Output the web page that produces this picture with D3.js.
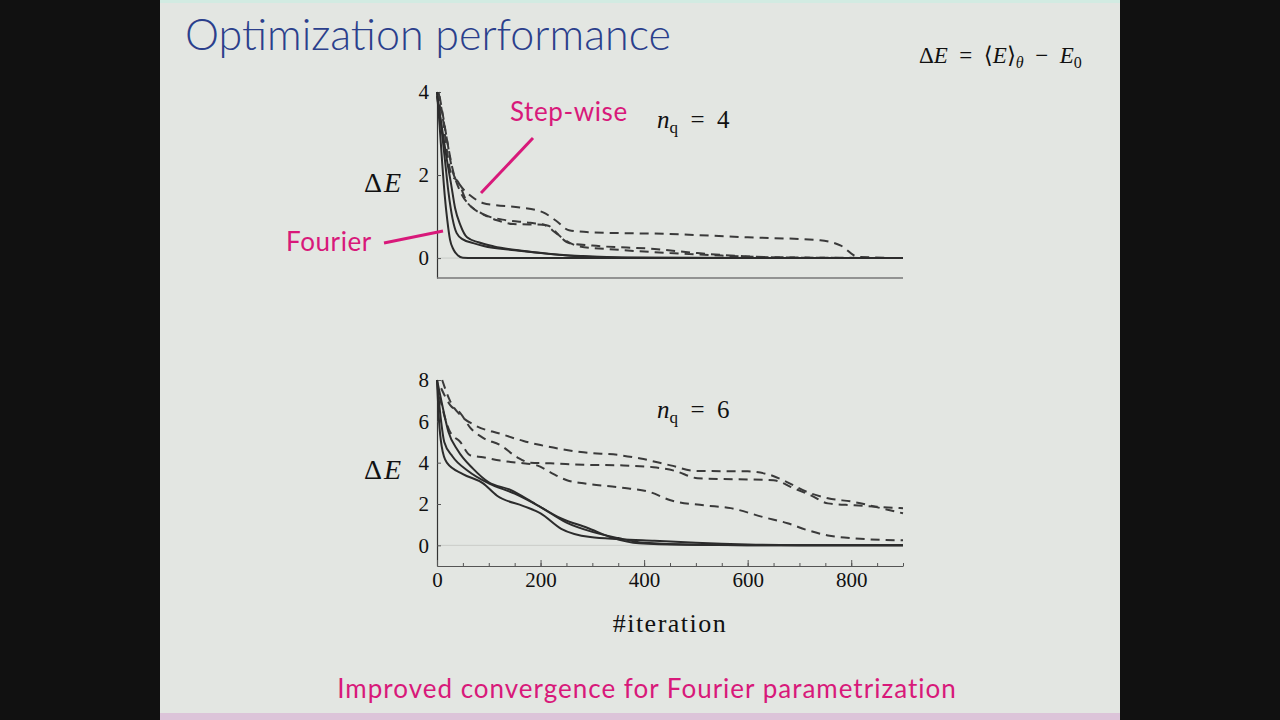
<!DOCTYPE html>
<html>
<head>
<meta charset="utf-8">
<script src="https://cdn.jsdelivr.net/npm/d3@7"></script>
<style>
  html, body { margin: 0; padding: 0; background: #111; }
  svg { display: block; }
</style>
</head>
<body>
<div id="vis"></div>
<script>
// n_q = 4 panel: [iteration, ΔE]
const fourier4 = [
  [[0, 4.0], [5, 3.2], [10, 2.3], [15, 1.5], [20, 0.9], [25, 0.45], [32, 0.2], [40, 0.07], [50, 0.01], [70, 0], [900, 0]],
  [[0, 4.0], [8, 3.2], [15, 2.4], [22, 1.6], [30, 0.95], [38, 0.6], [50, 0.45], [70, 0.36], [90, 0.29], [150, 0.19], [200, 0.12], [280, 0.04], [400, 0.01], [900, 0]],
  [[0, 3.9], [10, 3.1], [20, 2.3], [27, 1.8], [35, 1.2], [45, 0.8], [58, 0.5], [80, 0.38], [110, 0.28], [160, 0.18], [220, 0.1], [300, 0.04], [420, 0.01], [900, 0]]
];
const stepwise4 = [
  [[5, 3.9], [12, 3.4], [20, 2.8], [30, 2.1], [45, 1.75], [65, 1.5], [90, 1.32], [110, 1.28], [160, 1.22], [205, 1.1], [230, 0.9], [255, 0.67], [300, 0.62], [450, 0.58], [600, 0.5], [740, 0.43], [780, 0.3], [813, 0.03], [900, 0]],
  [[5, 3.7], [12, 3.3], [19, 2.6], [28, 2.0], [40, 1.85], [58, 1.35], [83, 1.1], [116, 0.91], [147, 0.82], [205, 0.8], [230, 0.6], [255, 0.36], [300, 0.3], [420, 0.22], [503, 0.12], [600, 0.04], [700, 0.01], [900, 0]],
  [[3, 4.0], [10, 3.5], [20, 2.8], [30, 2.15], [45, 1.6], [65, 1.25], [90, 1.05], [130, 0.92], [180, 0.85], [215, 0.78], [240, 0.5], [275, 0.28], [350, 0.2], [450, 0.12], [550, 0.06], [650, 0.02], [900, 0]]
];

// n_q = 6 panel
const fourier6 = [
  [[0, 8.0], [4, 6.0], [9, 4.8], [19, 4.0], [50, 3.45], [89, 3.0], [116, 2.4], [167, 1.9], [200, 1.55], [240, 0.8], [296, 0.4], [354, 0.3], [420, 0.22], [500, 0.12], [600, 0.04], [700, 0.01], [900, 0]],
  [[0, 8.0], [7, 6.2], [14, 5.0], [30, 4.3], [60, 3.6], [100, 3.0], [150, 2.5], [200, 1.85], [250, 1.1], [300, 0.65], [350, 0.35], [400, 0.12], [500, 0.03], [600, 0.01], [900, 0]],
  [[0, 8.0], [10, 6.8], [22, 5.5], [40, 4.6], [70, 3.7], [100, 3.05], [140, 2.7], [190, 2.0], [240, 1.3], [290, 0.85], [340, 0.35], [390, 0.1], [480, 0.03], [600, 0.01], [900, 0]]
];
const stepwise6 = [
  [[10, 8.0], [25, 7.0], [45, 6.3], [74, 5.8], [122, 5.4], [167, 5.05], [200, 4.85], [283, 4.5], [354, 4.36], [393, 4.2], [451, 3.87], [500, 3.6], [600, 3.58], [644, 3.4], [677, 3.05], [716, 2.57], [755, 2.28], [805, 2.1], [857, 1.8], [900, 1.55]],
  [[8, 7.6], [25, 6.8], [45, 6.4], [64, 5.7], [89, 5.2], [122, 4.85], [155, 4.26], [180, 4.0], [219, 3.97], [283, 3.9], [354, 3.87], [418, 3.78], [460, 3.6], [503, 3.25], [650, 3.15], [689, 2.76], [722, 2.42], [755, 2.03], [805, 1.94], [860, 1.85], [900, 1.8]],
  [[5, 7.2], [15, 6.2], [25, 5.5], [45, 5.0], [64, 4.36], [89, 4.26], [122, 4.1], [155, 4.0], [193, 3.87], [219, 3.53], [251, 3.15], [283, 3.0], [354, 2.8], [412, 2.57], [451, 2.18], [515, 1.94], [567, 1.8], [631, 1.36], [677, 1.07], [716, 0.73], [755, 0.48], [805, 0.34], [900, 0.24]]
];

const yTicks4 = [0, 2, 4];
const yTicks6 = [0, 2, 4, 6, 8];
const xMinorTicks = d3.range(0, 901, 50);
const xLabelTicks = [0, 200, 400, 600, 800];

const width = 1280;
const height = 720;
const pink = "#d8197a";
const ink = "#2c2c2c";
const serif = "'Liberation Serif', 'DejaVu Serif', serif";
const sans = "Lato, 'Open Sans', sans-serif";
const gap = "\u2002";

const svg = d3.select("#vis")
  .append("svg")
  .attr("width", width)
  .attr("height", height);

// slide
svg.append("rect").attr("x", 0).attr("y", 0).attr("width", width).attr("height", height).attr("fill", "#111");
svg.append("rect").attr("x", 160).attr("y", 0).attr("width", 960).attr("height", height).attr("fill", "#e3e6e2");
svg.append("rect").attr("x", 160).attr("y", 0).attr("width", 960).attr("height", 3).attr("fill", "#d2ebe2");
svg.append("rect").attr("x", 160).attr("y", 713).attr("width", 960).attr("height", 7).attr("fill", "#dcc4d9");

svg.append("text")
  .attr("x", 185)
  .attr("y", 50)
  .attr("font-family", sans)
  .attr("font-weight", 300)
  .attr("font-size", "43px")
  .attr("fill", "#2b3f8c")
  .text("Optimization performance");

// formula top right
const formula = svg.append("text")
  .attr("x", 919)
  .attr("y", 63)
  .attr("font-family", serif)
  .attr("font-size", "23px")
  .attr("fill", "#111");
formula.append("tspan").text("Δ");
formula.append("tspan").attr("font-style", "italic").text("E");
formula.append("tspan").text(gap + "=" + gap + "⟨");
formula.append("tspan").attr("font-style", "italic").text("E");
formula.append("tspan").text("⟩");
formula.append("tspan").attr("font-style", "italic").attr("font-size", "16px").attr("dy", 5).text("θ");
formula.append("tspan").attr("dy", -5).text(gap + "−" + gap);
formula.append("tspan").attr("font-style", "italic").text("E");
formula.append("tspan").attr("font-size", "16px").attr("dy", 5).text("0");

const xScale = d3.scaleLinear().domain([0, 900]).range([437, 903]);
const y4 = d3.scaleLinear().domain([-0.48, 4]).range([278, 92]);
const y6 = d3.scaleLinear().domain([-1, 8]).range([566, 380]);

function drawPanel(yScale, yTicks, fourier, stepwise, nq, labelY, nqY, showX) {
  // zero line
  svg.append("line")
    .attr("x1", xScale(0)).attr("x2", xScale(900))
    .attr("y1", yScale(0)).attr("y2", yScale(0))
    .attr("stroke", "#c9ccc8")
    .attr("stroke-width", 1);

  const yAxis = svg.append("g")
    .attr("transform", `translate(${xScale(0)},0)`)
    .call(d3.axisLeft(yScale).tickValues(yTicks).tickSize(-4).tickSizeOuter(0).tickPadding(8).tickFormat(d3.format("d")));
  yAxis.select(".domain").attr("stroke", "#333").attr("stroke-width", 1.2);
  yAxis.selectAll(".tick line").attr("stroke", "#555");
  yAxis.selectAll("text").attr("font-family", serif).attr("font-size", "21px").attr("fill", "#111");

  const base = yScale.domain()[0];
  if (showX) {
    const xMinor = svg.append("g")
      .attr("transform", `translate(0,${yScale(base)})`)
      .call(d3.axisBottom(xScale).tickValues(xMinorTicks).tickSize(-3).tickSizeOuter(0).tickFormat(""));
    xMinor.select(".domain").attr("stroke", "#555").attr("stroke-width", 1.2);
    xMinor.selectAll(".tick line").attr("stroke", "#555");
    const xMajor = svg.append("g")
      .attr("transform", `translate(0,${yScale(base)})`)
      .call(d3.axisBottom(xScale).tickValues(xLabelTicks).tickSize(-6).tickSizeOuter(0).tickPadding(6).tickFormat(d3.format("d")));
    xMajor.select(".domain").remove();
    xMajor.selectAll(".tick line").attr("stroke", "#555");
    xMajor.selectAll("text").attr("font-family", serif).attr("font-size", "21px").attr("fill", "#111");
  } else {
    svg.append("line")
      .attr("x1", xScale(0)).attr("x2", xScale(900))
      .attr("y1", yScale(base)).attr("y2", yScale(base))
      .attr("stroke", "#777")
      .attr("stroke-width", 1.4);
  }

  const line = d3.line()
    .x(d => xScale(d[0]))
    .y(d => yScale(d[1]))
    .curve(d3.curveMonotoneX);

  svg.append("g").selectAll("path")
    .data(stepwise)
    .join("path")
    .attr("d", line)
    .attr("fill", "none")
    .attr("stroke", "#3a3a3a")
    .attr("stroke-width", 2)
    .attr("stroke-dasharray", "9,6");

  svg.append("g").selectAll("path")
    .data(fourier)
    .join("path")
    .attr("d", line)
    .attr("fill", "none")
    .attr("stroke", ink)
    .attr("stroke-width", 2);

  // ΔE label
  const lab = svg.append("text")
    .attr("x", 364)
    .attr("y", labelY)
    .attr("font-family", serif)
    .attr("font-size", "28px")
    .attr("letter-spacing", "2px")
    .attr("fill", "#111");
  lab.append("tspan").text("Δ");
  lab.append("tspan").attr("font-style", "italic").text("E");

  const nqText = svg.append("text")
    .attr("x", 657)
    .attr("y", nqY)
    .attr("font-family", serif)
    .attr("font-size", "25px")
    .attr("fill", "#111");
  nqText.append("tspan").attr("font-style", "italic").text("n");
  nqText.append("tspan").attr("font-size", "17px").attr("dy", 5).text("q");
  nqText.append("tspan").attr("dy", -5).text(gap + "=" + gap + nq);
}

drawPanel(y4, yTicks4, fourier4, stepwise4, 4, 192, 128, false);
drawPanel(y6, yTicks6, fourier6, stepwise6, 6, 479, 418, true);

svg.append("text")
  .attr("x", 670)
  .attr("y", 632)
  .attr("text-anchor", "middle")
  .attr("font-family", serif)
  .attr("font-size", "26px")
  .attr("letter-spacing", "1.5px")
  .attr("fill", "#111")
  .text("#iteration");

// annotations
svg.append("text")
  .attr("x", 510)
  .attr("y", 121)
  .attr("font-family", sans)
  .attr("font-size", "26px")
  .attr("letter-spacing", "0.6px")
  .attr("fill", pink)
  .text("Step-wise");
svg.append("line")
  .attr("x1", 533).attr("y1", 138)
  .attr("x2", 481).attr("y2", 193)
  .attr("stroke", pink)
  .attr("stroke-width", 3);

svg.append("text")
  .attr("x", 286)
  .attr("y", 251)
  .attr("font-family", sans)
  .attr("font-size", "26px")
  .attr("letter-spacing", "0.6px")
  .attr("fill", pink)
  .text("Fourier");
svg.append("line")
  .attr("x1", 384).attr("y1", 243)
  .attr("x2", 443).attr("y2", 231)
  .attr("stroke", pink)
  .attr("stroke-width", 3);

svg.append("text")
  .attr("x", 647)
  .attr("y", 698)
  .attr("text-anchor", "middle")
  .attr("font-family", sans)
  .attr("font-size", "26px")
  .attr("letter-spacing", "1px")
  .attr("fill", pink)
  .text("Improved convergence for Fourier parametrization");
</script>
</body>
</html>
